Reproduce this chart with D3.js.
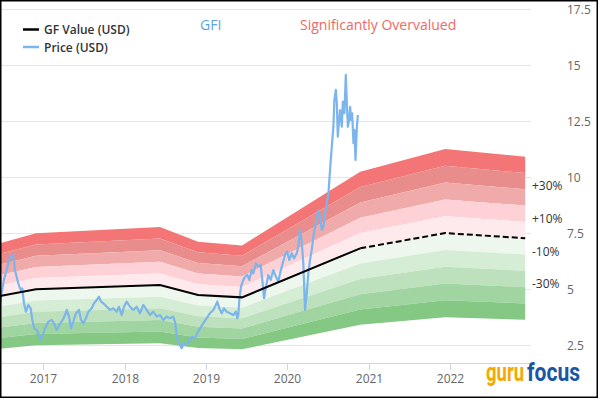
<!DOCTYPE html>
<html>
<head>
<meta charset="utf-8">
<script src="https://cdn.jsdelivr.net/npm/d3@7"></script>
<style>
  body { margin: 0; background: #fff; }
  svg { display: block; }
</style>
</head>
<body>
<div id="chart"></div>
<script>
// GF Value knots (decimal years) and values
const gfYears  = [2016.467, 2016.910, 2018.435, 2018.903, 2019.444, 2020.896, 2021.941, 2022.925];
const gfValues = [4.70, 5.00, 5.19, 4.75, 4.64, 6.83, 7.51, 7.28];
const gfForecastFrom = 2020.896; // dashed after this

// Price (USD)
const priceYears = [
  2016.467, 2016.488, 2016.517, 2016.550, 2016.570, 2016.599, 2016.624, 2016.640, 2016.652, 2016.673,
  2016.693, 2016.722, 2016.742, 2016.763, 2016.787, 2016.816, 2016.845, 2016.865, 2016.889, 2016.919,
  2016.947, 2016.968, 2016.993, 2017.021, 2017.062, 2017.103, 2017.132, 2017.165, 2017.197, 2017.239,
  2017.267, 2017.288, 2017.316, 2017.341, 2017.369, 2017.402, 2017.439, 2017.464, 2017.492, 2017.525,
  2017.554, 2017.595, 2017.624, 2017.657, 2017.685, 2017.710, 2017.738, 2017.780, 2017.820, 2017.861,
  2017.903, 2017.931, 2017.964, 2017.993, 2018.026, 2018.066, 2018.107, 2018.149, 2018.189, 2018.230,
  2018.272, 2018.312, 2018.353, 2018.395, 2018.435, 2018.476, 2018.518, 2018.558, 2018.599, 2018.620,
  2018.641, 2018.660, 2018.681, 2018.702, 2018.730, 2018.764, 2018.796, 2018.825, 2018.866, 2018.894,
  2018.927, 2018.968, 2019.010, 2019.050, 2019.091, 2019.112, 2019.140, 2019.165, 2019.194, 2019.223,
  2019.256, 2019.296, 2019.337, 2019.370, 2019.386, 2019.399, 2019.411, 2019.432, 2019.460, 2019.481,
  2019.509, 2019.534, 2019.563, 2019.583, 2019.616, 2019.645, 2019.674, 2019.694, 2019.715, 2019.739,
  2019.768, 2019.797, 2019.829, 2019.862, 2019.891, 2019.912, 2019.945, 2019.973, 2020.001, 2020.026,
  2020.055, 2020.084, 2020.117, 2020.137, 2020.157, 2020.178, 2020.198, 2020.219, 2020.240, 2020.259,
  2020.280, 2020.301, 2020.321, 2020.342, 2020.362, 2020.382, 2020.403, 2020.424, 2020.444, 2020.465,
  2020.485, 2020.506, 2020.526, 2020.547, 2020.567, 2020.579, 2020.597, 2020.609, 2020.621, 2020.637,
  2020.649, 2020.670, 2020.683, 2020.702, 2020.719, 2020.732, 2020.744, 2020.760, 2020.772, 2020.785,
  2020.797, 2020.813, 2020.825, 2020.838, 2020.855, 2020.867
];
const priceValues = [
  4.15, 4.82, 5.42, 5.86, 6.16, 6.46, 6.53, 6.31, 5.86, 5.56,
  5.27, 4.97, 5.04, 4.38, 4.00, 4.30, 4.15, 3.63, 3.26, 3.18,
  2.96, 2.74, 2.96, 3.26, 3.55, 3.63, 3.48, 3.18, 3.41, 3.63,
  3.85, 4.08, 3.78, 3.26, 3.55, 3.93, 4.08, 3.63, 3.48, 3.71,
  4.00, 4.15, 4.38, 4.52, 4.67, 4.45, 4.38, 4.22, 4.08, 4.15,
  4.00, 4.22, 3.85, 4.22, 4.45, 4.22, 4.08, 4.22, 3.93, 4.30,
  4.08, 3.85, 4.00, 3.78, 3.85, 3.63, 3.78, 3.71, 3.78, 3.55,
  2.96, 2.66, 2.51, 2.37, 2.59, 2.51, 2.74, 2.88, 2.81, 3.04,
  3.26, 3.48, 3.71, 3.93, 4.08, 4.22, 4.45, 4.15, 3.93, 4.15,
  4.00, 3.93, 3.85, 4.00, 3.71, 3.85, 4.52, 5.12, 5.42, 5.56,
  5.64, 5.42, 5.86, 5.71, 6.16, 6.01, 6.08, 5.42, 4.60, 5.12,
  5.64, 5.42, 5.86, 5.56, 5.34, 5.71, 6.16, 6.53, 6.68, 6.31,
  6.61, 6.38, 6.61, 6.90, 7.65, 7.13, 6.16, 4.08, 4.82, 5.71,
  6.31, 6.75, 7.35, 7.79, 8.02, 8.54, 8.24, 7.65, 7.79, 8.39,
  8.84, 9.29, 10.33, 11.37, 12.26, 13.45, 13.90, 13.30, 11.81, 12.56,
  13.00, 12.26, 13.38, 12.86, 14.57, 13.30, 12.26, 12.56, 13.15, 12.56,
  12.86, 11.52, 12.11, 10.77, 12.26, 12.78
];

// band edges around GF Value, top to bottom
const bandLevels = [0.5, 0.4, 0.3, 0.2, 0.1, 0, -0.1, -0.2, -0.3, -0.4, -0.5];
const bandColors = ["#f37575", "#e98c8c", "#f1aaaa", "#fdd1d6", "#feeaed",
                    "#eef7ee", "#d5ecd5", "#bde1bd", "#a0d4a0", "#84c884"];
const pctLabels = [0.3, 0.1, -0.1, -0.3];
const yTicks = [2.5, 5, 7.5, 10, 12.5, 15, 17.5];
const xTicks = [2017, 2018, 2019, 2020, 2021, 2022];

function yearToDate(y) {
    const yr = Math.floor(y);
    const a = new Date(yr, 0, 1), b = new Date(yr + 1, 0, 1);
    return new Date(+a + (y - yr) * (b - a));
}

const gf = gfYears.map((t, i) => ({ date: yearToDate(t), v: gfValues[i] }));
const price = priceYears.map((t, i) => ({ date: yearToDate(t), v: priceValues[i] }));

const svg = d3.select("#chart").append("svg")
    .attr("width", 600)
    .attr("height", 420);

svg.append("rect").attr("width", 600).attr("height", 420).attr("fill", "#fff");

const x = d3.scaleTime()
    .domain([yearToDate(2017), yearToDate(2022)])
    .range([43.3, 450]);
const y = d3.scaleLinear()
    .domain([2.5, 17.5])
    .range([345.3, 9.3]);

// grid
svg.append("g").selectAll("line")
    .data(yTicks)
    .enter().append("line")
        .attr("x1", 0).attr("x2", 531)
        .attr("y1", d => Math.round(y(d)) + 0.5)
        .attr("y2", d => Math.round(y(d)) + 0.5)
        .style("stroke", "#e6e6e6")
        .style("stroke-width", 1);

// value bands
const bands = d3.range(bandColors.length).map(i => ({ hi: bandLevels[i], lo: bandLevels[i + 1], color: bandColors[i] }));
svg.append("g").selectAll("path")
    .data(bands)
    .enter().append("path")
        .attr("fill", d => d.color)
        .attr("d", b => d3.area()
            .x(d => x(d.date))
            .y0(d => y(d.v * (1 + b.lo)))
            .y1(d => y(d.v * (1 + b.hi)))(gf));

// price line
svg.append("path")
    .datum(price)
    .attr("fill", "none")
    .style("stroke", "#7cb5ec")
    .style("stroke-width", 2.2)
    .style("stroke-linejoin", "round")
    .attr("d", d3.line().x(d => x(d.date)).y(d => y(d.v)));

// GF value line, solid then dashed
const cut = yearToDate(gfForecastFrom);
const gfLine = d3.line().x(d => x(d.date)).y(d => y(d.v));
svg.append("path")
    .datum(gf.filter(d => d.date <= cut))
    .attr("fill", "none")
    .style("stroke", "#000")
    .style("stroke-width", 2)
    .attr("d", gfLine);
svg.append("path")
    .datum(gf.filter(d => d.date >= cut))
    .attr("fill", "none")
    .style("stroke", "#000")
    .style("stroke-width", 2)
    .style("stroke-dasharray", "6,3")
    .attr("d", gfLine);

// x axis
svg.append("line")
    .attr("x1", 0).attr("x2", 531)
    .attr("y1", 363.5).attr("y2", 363.5)
    .style("stroke", "#ccd6eb");
const xg = svg.append("g").selectAll("g")
    .data(xTicks)
    .enter().append("g")
    .attr("transform", d => `translate(${Math.round(x(yearToDate(d))) + 0.5},0)`);
xg.append("line").attr("y1", 363).attr("y2", 370).style("stroke", "#ccd6eb");
xg.append("text")
    .attr("y", 383)
    .attr("text-anchor", "middle")
    .style("font-family", "Open Sans")
    .style("font-size", "12px")
    .style("fill", "#666")
    .text(d => d);

// y labels on the right
svg.append("g").selectAll("text")
    .data(yTicks)
    .enter().append("text")
        .attr("x", 567)
        .attr("y", d => y(d) + 5)
        .style("font-family", "Open Sans")
        .style("font-size", "12px")
        .style("fill", "#666")
        .text(d => d);

// percent labels at the right end of the bands
const last = gf[gf.length - 1];
svg.append("g").selectAll("text")
    .data(pctLabels)
    .enter().append("text")
        .attr("x", 532)
        .attr("y", d => y(last.v * (1 + d)) + 1)
        .style("font-family", "Open Sans")
        .style("font-size", "12px")
        .style("fill", "#333")
        .text(d => (d > 0 ? "+" : "-") + Math.round(Math.abs(d) * 100) + "%");

// legend
const legend = [
    { name: "GF Value (USD)", color: "#000" },
    { name: "Price (USD)", color: "#7cb5ec" }
];
const lg = svg.append("g").selectAll("g")
    .data(legend)
    .enter().append("g")
    .attr("transform", (d, i) => `translate(23,${29.5 + i * 17.5})`);
lg.append("line").attr("x1", 0).attr("x2", 16)
    .style("stroke", d => d.color).style("stroke-width", 2.5);
lg.append("text")
    .attr("x", 21).attr("y", 4.5)
    .style("font-family", "Open Sans")
    .style("font-weight", 600)
    .style("font-size", "12px")
    .style("fill", "#333")
    .text(d => d.name);

// title texts
svg.append("text")
    .attr("x", 200).attr("y", 30)
    .style("font-family", "Open Sans")
    .style("font-size", "14px")
    .style("fill", "#5aa2e8")
    .text("GFI");
svg.append("text")
    .attr("x", 300).attr("y", 30)
    .style("font-family", "Open Sans")
    .style("font-size", "14px")
    .style("fill", "#f06868")
    .text("Significantly Overvalued");

// gurufocus mark, squeezed horizontally with a scale so its box stays true
const logoParts = [
    { text: "guru", color: "#f6a800", x: 486, w: 38 },
    { text: "focus", color: "#1b55a5", x: 527, w: 53 }
];
logoParts.forEach(p => {
    const g = svg.append("g");
    const t = g.append("text")
        .style("font-family", "Roboto")
        .style("font-weight", "bold")
        .style("font-size", "25px")
        .style("fill", p.color)
        .text(p.text);
    const natural = t.node().getComputedTextLength();
    g.attr("transform", `translate(${p.x},381) scale(${p.w / natural},1)`);
});

// frame
svg.append("rect")
    .attr("x", 0.75).attr("y", 0.75)
    .attr("width", 596.5).attr("height", 396.5)
    .attr("fill", "none")
    .style("stroke", "#000")
    .style("stroke-width", 1.5);
</script>
</body>
</html>
